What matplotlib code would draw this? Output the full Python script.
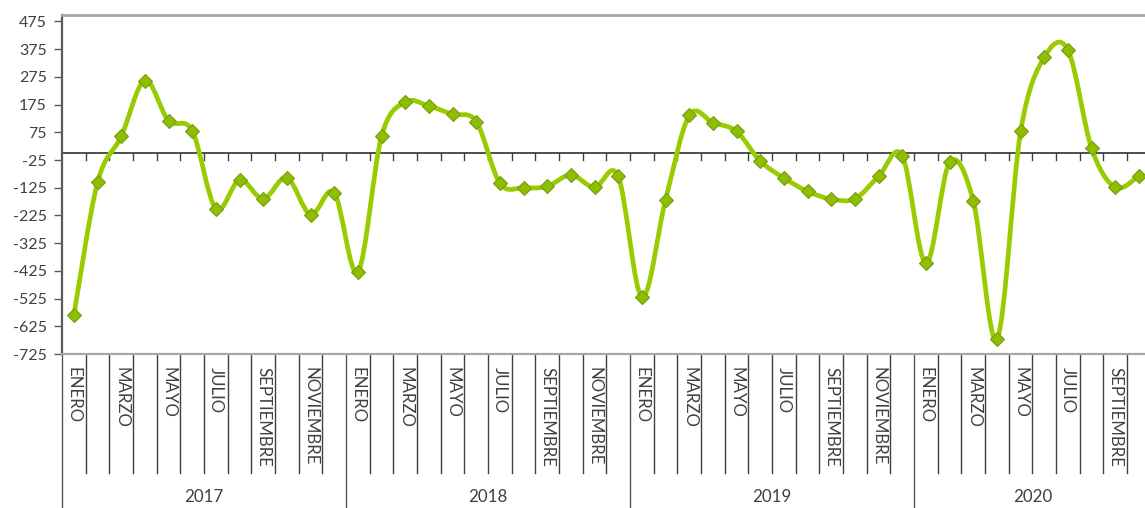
import matplotlib
matplotlib.use("Agg")
import matplotlib.pyplot as plt
from matplotlib.path import Path
from matplotlib.patches import PathPatch
import matplotlib.transforms as mtransforms
import numpy as np

plt.rcParams['font.family'] = ['Lato', 'DejaVu Sans']

years = ["2017", "2018", "2019", "2020"]
months_per_year = [12, 12, 12, 10]
month_names = ["ENERO", "FEBRERO", "MARZO", "ABRIL", "MAYO", "JUNIO", "JULIO",
               "AGOSTO", "SEPTIEMBRE", "OCTUBRE", "NOVIEMBRE", "DICIEMBRE"]
values = [-586, -106, 60, 262, 117, 81, -201, -97, -165, -89, -222, -143,
          -429, 61, 184, 170, 140, 114, -109, -125, -120, -79, -124, -84,
          -520, -168, 136, 110, 78, -29, -90, -138, -166, -165, -84, -9,
          -398, -33, -173, -672, 78, 346, 372, 17, -124, -81]
yticks = list(range(-725, 476, 100))

W, H = 1145, 508
fig = plt.figure(figsize=(W / 100, H / 100), dpi=100)
ax_left, ax_right, ax_top, ax_bot = 62, 1145, 15, 354
ax = fig.add_axes([ax_left / W, 1 - ax_bot / H, (ax_right - ax_left) / W, (ax_bot - ax_top) / H])

n = len(values)
x = np.arange(n, dtype=float)
y = np.array(values, dtype=float)

# smoothed line (Excel style) through the data points using cubic Bezier segments
verts = [(x[0], y[0])]
codes = [Path.MOVETO]
for i in range(n - 1):
    p0 = np.array([x[i - 1], y[i - 1]]) if i > 0 else np.array([x[i], y[i]])
    p1 = np.array([x[i], y[i]])
    p2 = np.array([x[i + 1], y[i + 1]])
    p3 = np.array([x[i + 2], y[i + 2]]) if i + 2 < n else p2
    c1 = p1 + (p2 - p0) / 6.0
    c2 = p2 - (p3 - p1) / 6.0
    verts += [tuple(c1), tuple(c2), tuple(p2)]
    codes += [Path.CURVE4] * 3
patch = PathPatch(Path(verts, codes), facecolor='none', edgecolor='#99CC00', lw=3.4,
                  capstyle='round', joinstyle='round', zorder=3)
ax.add_patch(patch)
ax.plot(x, y, linestyle='none', marker='D', markersize=7.5, markerfacecolor='#8CBF00',
        markeredgecolor='#7A9A10', markeredgewidth=0.8, zorder=4)

right_lim = -0.5 + (ax_right - ax_left) / 23.67
ax.set_xlim(-0.5, right_lim)
ymin = -725
ymax = 0 + (153.3 - ax_top) / 0.2775
ax.set_ylim(ymin, ymax)

ax.set_yticks(yticks)
ax.set_yticklabels([str(v) for v in yticks], fontsize=11.5, color='#404040')
ax.tick_params(axis='y', direction='out', length=6, width=1, color='#595959', pad=5)
ax.set_xticks([])

ax.spines['right'].set_visible(False)
ax.spines['left'].set_color('#595959')
ax.spines['left'].set_linewidth(1.6)
ax.spines['top'].set_color('#A6A6A6')
ax.spines['top'].set_linewidth(2)
ax.spines['bottom'].set_color('#A6A6A6')
ax.spines['bottom'].set_linewidth(1.6)

# zero axis line with ticks at month boundaries
ax.axhline(0, color='#404040', lw=1.3, zorder=2)
tick_len = 7 / 0.2775
for k in range(1, n + 1):
    ax.plot([k - 0.5, k - 0.5], [0, -tick_len], color='#404040', lw=1, zorder=2)

# category label area
trans = mtransforms.blended_transform_factory(ax.transData, ax.transAxes)
axh = ax_bot - ax_top
month_line_bot = -(473 - ax_bot) / axh
year_line_bot = -(H - ax_bot + 2) / axh
label_top = -(367 - ax_bot) / axh
year_y = -(497 - ax_bot) / axh

boundaries = [0]
for m in months_per_year:
    boundaries.append(boundaries[-1] + m)

for k in range(0, n + 1):
    b = k - 0.5
    if k in boundaries:
        ax.plot([b, b], [0, year_line_bot], transform=trans, color='#595959', lw=1,
                clip_on=False)
    else:
        ax.plot([b, b], [0, month_line_bot], transform=trans, color='#404040', lw=1,
                clip_on=False)

idx = 0
for yr, m in zip(years, months_per_year):
    for j in range(m):
        if j % 2 == 0:
            ax.text(idx + j, label_top, month_names[j], transform=trans, rotation=-90,
                    ha='center', va='top', fontsize=12.2, color='#404040', clip_on=False)
    ax.text(idx + (m - 1) / 2.0, year_y, yr, transform=trans, ha='center', va='center',
            fontsize=12.2, color='#404040', clip_on=False)
    idx += m

fig.savefig("out.png", dpi=100)
